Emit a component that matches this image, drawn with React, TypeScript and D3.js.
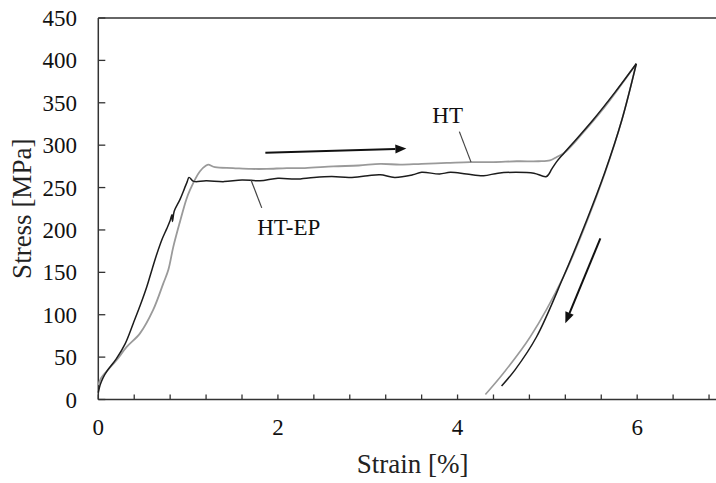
import * as d3 from "d3";

// stress-strain readings, [strain %, stress MPa]
const htEpLoading: [number, number][] = [
  [0, 8], [0.02, 17], [0.05, 25], [0.1, 34], [0.2, 48], [0.3, 66], [0.39, 90],
  [0.47, 112], [0.54, 133], [0.6, 154], [0.65, 171], [0.71, 189], [0.76, 201],
  [0.8, 211], [0.82, 218], [0.826, 210], [0.845, 222], [0.91, 236], [0.96, 249],
  [0.99, 257], [1.01, 262], [1.05, 258], [1.08, 257], [1.2, 258], [1.4, 257],
  [1.6, 259], [1.8, 258], [2.0, 261], [2.2, 260], [2.4, 262], [2.6, 263],
  [2.8, 262], [3.0, 264], [3.14, 265], [3.3, 262], [3.5, 265], [3.6, 268],
  [3.8, 266], [3.92, 268], [4.1, 266], [4.29, 264], [4.45, 267], [4.65, 268],
  [4.85, 267], [4.99, 263], [5.05, 272], [5.1, 280], [5.18, 290], [5.33, 308],
  [5.51, 330], [5.75, 362], [5.99, 396],
];
const htEpUnloading: [number, number][] = [
  [5.99, 396], [5.83, 330], [5.64, 268], [5.44, 212], [5.18, 145], [4.88, 74],
  [4.64, 35], [4.49, 16],
];
const htLoading: [number, number][] = [
  [0, 17], [0.03, 25], [0.1, 34], [0.2, 46], [0.316, 62], [0.464, 78],
  [0.612, 106], [0.724, 137], [0.78, 153], [0.835, 180], [0.91, 210],
  [0.98, 236], [1.02, 247], [1.13, 269], [1.2, 276], [1.225, 277], [1.3, 274],
  [1.5, 273], [1.7, 272], [1.875, 272], [2.1, 273], [2.3, 273], [2.617, 275],
  [2.9, 276], [3.14, 278], [3.36, 277], [3.6, 278], [3.88, 279], [4.14, 280],
  [4.4, 280], [4.66, 281], [4.9, 281], [5.03, 282], [5.105, 286], [5.2, 292],
  [5.4, 315], [5.6, 340], [5.8, 368], [5.99, 396],
];
const htUnloading: [number, number][] = [
  [5.99, 396], [5.83, 330], [5.64, 267], [5.44, 210], [5.18, 145], [4.81, 74],
  [4.51, 31], [4.31, 6],
];

const yTicks = [0, 50, 100, 150, 200, 250, 300, 350, 400, 450];
const xLabels = [0, 2, 4, 6];
const xMinorStep = 0.4;

// annotations in data units
const loadArrow: [number, number][] = [[1.86, 291], [3.43, 296]];
const unloadArrow: [number, number][] = [[5.59, 190], [5.2, 90]];
const htLabel = { text: "HT", at: [3.89, 326], leader: [[4.02, 316], [4.15, 280]] };
const htEpLabel = { text: "HT-EP", at: [2.12, 194], leader: [[1.7, 259], [1.82, 226]] };

const W = 716;
const H = 483;
const font = "'Liberation Serif', 'Times New Roman', serif";

export default function App() {
  const x = d3.scaleLinear().domain([0, 7]).range([98.3, 727]);
  const y = d3.scaleLinear().domain([0, 450]).range([399.5, 18]);

  const line = d3
    .line<[number, number]>()
    .x((d) => x(d[0]))
    .y((d) => y(d[1]))
    .curve(d3.curveCatmullRom.alpha(0.5));

  const minorTicks = d3.range(0, 7.01, xMinorStep);

  const arrow = (a: [number, number][], key: string) => {
    const x1 = x(a[0][0]), y1 = y(a[0][1]);
    const x2 = x(a[1][0]), y2 = y(a[1][1]);
    const ang = Math.atan2(y2 - y1, x2 - x1);
    const len = 11, half = 4.5;
    const bx = x2 - len * Math.cos(ang), by = y2 - len * Math.sin(ang);
    const px = -Math.sin(ang) * half, py = Math.cos(ang) * half;
    return (
      <g key={key}>
        <line x1={x1} y1={y1} x2={bx} y2={by} stroke="#111" strokeWidth={2} />
        <path d={`M${x2},${y2}L${bx + px},${by + py}L${bx - px},${by - py}Z`} fill="#111" />
      </g>
    );
  };

  return (
    <svg
      width={W}
      height={H}
      style={{ position: "absolute", left: 0, top: 0, background: "#fff", fontFamily: font }}
    >
      <rect width={W} height={H} fill="#fff" />
      {/* axes frame */}
      <line x1={x(0)} y1={y(0)} x2={W} y2={y(0)} stroke="#333" strokeWidth={1.5} />
      <line x1={x(0)} y1={y(450)} x2={W} y2={y(450)} stroke="#333" strokeWidth={1.5} />
      <line x1={x(0)} y1={y(0)} x2={x(0)} y2={y(450)} stroke="#333" strokeWidth={1.5} />

      {yTicks.map((t) => (
        <g key={"y" + t}>
          <line x1={x(0)} x2={x(0) + 7} y1={y(t)} y2={y(t)} stroke="#333" strokeWidth={1.3} />
          <text x={77} y={y(t)} dy="0.35em" textAnchor="end" fontSize={23} fill="#111">
            {t}
          </text>
        </g>
      ))}
      {minorTicks.map((t) => (
        <line key={"xm" + t} x1={x(t)} x2={x(t)} y1={y(0)} y2={y(0) - 5} stroke="#333" strokeWidth={1.3} />
      ))}
      {xLabels.map((t) => (
        <text key={"x" + t} x={x(t)} y={435} textAnchor="middle" fontSize={23} fill="#111">
          {t}
        </text>
      ))}

      <text x={x(3.5)} y={473} textAnchor="middle" fontSize={27} fill="#222">
        Strain [%]
      </text>
      <text
        transform={`translate(31,${(y(0) + y(450)) / 2}) rotate(-90)`}
        textAnchor="middle"
        fontSize={27}
        fill="#222"
      >
        Stress [MPa]
      </text>

      {/* curves */}
      <path d={line(htLoading) ?? ""} fill="none" stroke="#9a9a9a" strokeWidth={1.8} />
      <path d={line(htUnloading) ?? ""} fill="none" stroke="#9a9a9a" strokeWidth={1.6} />
      <path d={line(htEpLoading) ?? ""} fill="none" stroke="#1c1c1c" strokeWidth={1.5} />
      <path d={line(htEpUnloading) ?? ""} fill="none" stroke="#1c1c1c" strokeWidth={1.5} />

      {arrow(loadArrow, "a1")}
      {arrow(unloadArrow, "a2")}

      {[htLabel, htEpLabel].map((l) => (
        <g key={l.text}>
          <line
            x1={x(l.leader[0][0])}
            y1={y(l.leader[0][1])}
            x2={x(l.leader[1][0])}
            y2={y(l.leader[1][1])}
            stroke="#444"
            strokeWidth={1.2}
          />
          <text x={x(l.at[0])} y={y(l.at[1])} textAnchor="middle" fontSize={23} fill="#111">
            {l.text}
          </text>
        </g>
      ))}
    </svg>
  );
}
